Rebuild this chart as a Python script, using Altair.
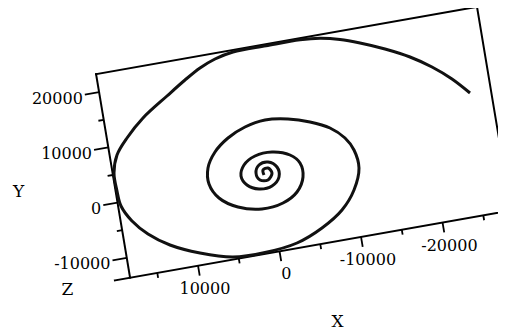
import altair as alt
import pandas as pd

# ---- data (in data units) ----
spiral_x = [-25850, -23984, -21839, -19416, -16596, -13736, -11422, -9062, -6648, -2477,
            1580, 3864, 5831, 7858, 10322, 13620, 15925, 17455, 18171, 18172, 17994, 16981,
            15333, 12930, 9514, 5661, 1757, -2246, -5524, -8266, -10094, -11128,
            -10890, -10057, -8468, -6204, -3642, -880, 1643, 3888, 5716, 6869,
            7068, 6155, 4069, 1249, -1373, -3261, -4275, -4196, -3163, -1078,
            1028, 2518, 3095, 2559, 1208, -401, -1414, -1375, -402, 730,
            1247, 910, -44, -660, -282, 353, 334]
spiral_y = [8329, 11352, 14086, 16529, 18714, 20547, 21785, 22618, 22976, 22977,
            22912, 22240, 21123, 19477, 17222, 14097, 11075, 8394, 5320, 2059, -704, -3686,
            -6471, -9091, -11431, -13161, -13364, -12687, -10825, -8280, -5133, -1417,
            1905, 4297, 6523, 8200, 9412, 9951, 9341, 7934, 5875, 3277,
            431, -2344, -4518, -5616, -5213, -3713, -1260, 1297, 3015, 4103,
            3928, 2686, 844, -927, -2004, -1880, -514, 1308, 2468, 2220,
            905, -451, -700, 408, 1412, 1215, 304]

x_major = [10000, 0, -10000, -20000]
x_labels = ["10000", "0", "-10000", "-20000"]
x_minor = [15000, 5000, -5000, -15000, -25000]
y_major = [-10000, 0, 10000, 20000]
y_labels = ["-10000", "0", "10000", "20000"]
y_minor = [-5000, 5000, 15000]

X_LEFT, X_RIGHT, X_STUB = 18340, -28400, 20200
Y_BOT, Y_TOP = -13600, 23270

# ---- view projection of the tilted 3-D box ----
O = (267.0, 176.2)
EX = (-81.5, 14.4)
EY = (-9.22, -55.2)


def proj(X, Y):
    a, b = X / 1e4, Y / 1e4
    return O[0] + a * EX[0] + b * EY[0], O[1] + a * EX[1] + b * EY[1]


W, H = 490, 323
xs = alt.Scale(domain=[8, 8 + W], nice=False, zero=False)
ys = alt.Scale(domain=[8, 8 + H], nice=False, zero=False, reverse=True)

# spiral
sp = []
for i, (X, Y) in enumerate(zip(spiral_x, spiral_y)):
    u, v = proj(X, Y)
    sp.append({"i": i, "u": u, "v": v})
sp = pd.DataFrame(sp)

# segments
segs = []
def add_seg(X1, Y1, X2, Y2, kind):
    u1, v1 = proj(X1, Y1)
    u2, v2 = proj(X2, Y2)
    segs.append({"u": u1, "v": v1, "u2": u2, "v2": v2, "kind": kind})

add_seg(X_LEFT, Y_TOP, X_RIGHT, Y_TOP, "frame")
add_seg(X_LEFT, Y_TOP, X_LEFT, Y_BOT, "frame")
add_seg(X_RIGHT, Y_TOP, X_RIGHT, Y_BOT, "frame")
add_seg(X_STUB, Y_BOT, X_RIGHT, Y_BOT, "frame")
for y in y_major:
    add_seg(X_LEFT, y, X_LEFT + 1750, y, "tick")
for y in y_minor:
    add_seg(X_LEFT, y, X_LEFT + 650, y, "tick")
for x in x_major:
    add_seg(x, Y_BOT, x, Y_BOT - 1800, "tick")
for x in x_minor:
    add_seg(x, Y_BOT, x, Y_BOT - 900, "tick")
segs = pd.DataFrame(segs)

ylab = []
for y, t in zip(y_major, y_labels):
    u, v = proj(X_LEFT + 1750, y)
    ylab.append({"u": u, "v": v, "t": t})
ylab = pd.DataFrame(ylab)

xlab = []
for x, t in zip(x_major, x_labels):
    u, v = proj(x, Y_BOT - 4200)
    xlab.append({"u": u, "v": v, "t": t})
xlab = pd.DataFrame(xlab)

titles = []
for (X, Y, t) in [(29930, 4940, "Y"), (26040, -13820, "Z"), (-5490, -27930, "X")]:
    u, v = proj(X, Y)
    titles.append({"u": u, "v": v, "t": t})
titles = pd.DataFrame(titles)

enc = dict(x=alt.X("u:Q", scale=xs, axis=None), y=alt.Y("v:Q", scale=ys, axis=None))

frame = alt.Chart(segs).transform_filter("datum.kind == 'frame'").mark_rule(
    color="black", strokeWidth=2, strokeCap="square"
).encode(x2="u2:Q", y2="v2:Q", **enc)

ticks = alt.Chart(segs).transform_filter("datum.kind == 'tick'").mark_rule(
    color="black", strokeWidth=1.8
).encode(x2="u2:Q", y2="v2:Q", **enc)

line = alt.Chart(sp).mark_line(
    color="#111111", strokeWidth=3, interpolate="catmull-rom", strokeJoin="round"
).encode(order="i:Q", **enc)

font = "DejaVu Serif"
yl = alt.Chart(ylab).mark_text(
    font=font, fontSize=16, align="right", baseline="middle", dx=-2, dy=4, color="black"
).encode(text="t:N", **enc)
xl = alt.Chart(xlab).mark_text(
    font=font, fontSize=16, align="center", baseline="middle", dx=3, color="black"
).encode(text="t:N", **enc)
tl = alt.Chart(titles).mark_text(
    font=font, fontSize=17, align="center", baseline="middle", color="black"
).encode(text="t:N", **enc)

chart = alt.layer(frame, ticks, line, yl, xl, tl).properties(
    width=W, height=H, padding=0, autosize=alt.AutoSizeParams(type="none"),
    background="white"
).configure_view(stroke=None)

chart.save("out.html", embed_options={"renderer": "svg", "actions": False})
